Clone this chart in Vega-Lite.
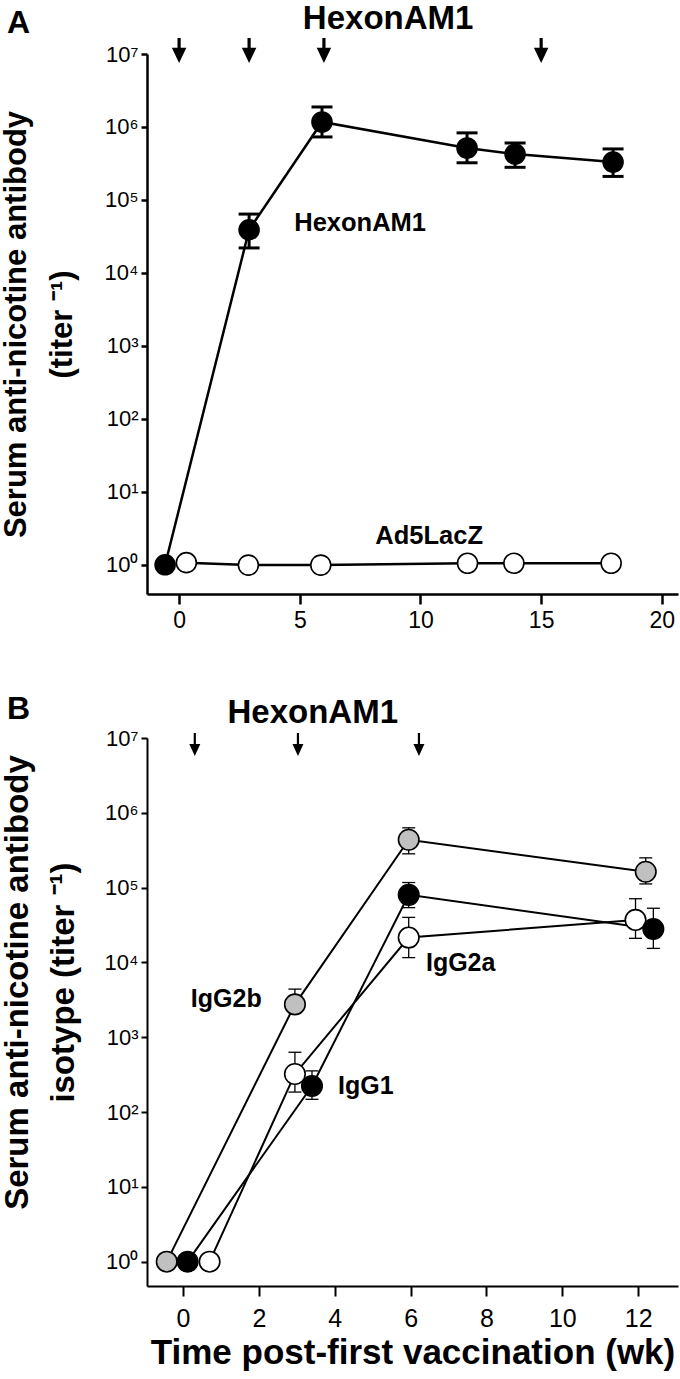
{
  "$schema": "https://vega.github.io/schema/vega-lite/v6.json",
  "padding": {"left": 0, "top": 2, "right": 2, "bottom": 4},
  "bounds": "flush",
  "spacing": 144,
  "resolve": {"scale": {"x": "independent", "y": "independent", "fill": "independent"}},
  "config": {
    "view": {"stroke": null},
    "font": "Liberation Sans",
    "axis": {"grid": false, "domainColor": "black", "tickColor": "black", "labelColor": "black", "titleColor": "black"}
  },
  "datasets": {
    "A": [
      {"series": "HexonAM1", "week": -0.58, "titer": 1.0},
      {"series": "HexonAM1", "week": 2.9, "titer": 39000, "lo": 22000, "hi": 64000},
      {"series": "HexonAM1", "week": 5.92, "titer": 1170000, "lo": 730000, "hi": 1880000},
      {"series": "HexonAM1", "week": 11.93, "titer": 515000, "lo": 323000, "hi": 830000},
      {"series": "HexonAM1", "week": 13.92, "titer": 425000, "lo": 280000, "hi": 603000},
      {"series": "HexonAM1", "week": 17.98, "titer": 330000, "lo": 210000, "hi": 500000},
      {"series": "Ad5LacZ", "week": 0.3, "titer": 1.07},
      {"series": "Ad5LacZ", "week": 2.87, "titer": 0.99},
      {"series": "Ad5LacZ", "week": 5.87, "titer": 0.99},
      {"series": "Ad5LacZ", "week": 11.95, "titer": 1.05},
      {"series": "Ad5LacZ", "week": 13.87, "titer": 1.05},
      {"series": "Ad5LacZ", "week": 17.9, "titer": 1.05}
    ],
    "arrowsA": [
      {"week": 0, "titer": 7530000},
      {"week": 2.9, "titer": 7530000},
      {"week": 6, "titer": 7530000},
      {"week": 15, "titer": 7530000}
    ],
    "labelsA": [
      {"label": "HexonAM1", "week": 7.5, "titer": 48400},
      {"label": "Ad5LacZ", "week": 10.36, "titer": 2.5}
    ],
    "titleA": [{"label": "HexonAM1", "week": 8.66, "titer": 30200000}],
    "letterA": [{"label": "A", "week": -6.65, "titer": 26900000}],
    "B": [
      {"series": "IgG2b", "week": -0.43, "titer": 1.0},
      {"series": "IgG2b", "week": 2.95, "titer": 2750, "lo": 2300, "hi": 4400},
      {"series": "IgG2b", "week": 5.95, "titer": 436000, "lo": 283000, "hi": 630000},
      {"series": "IgG2b", "week": 12.2, "titer": 163000, "lo": 112000, "hi": 250000},
      {"series": "IgG2a", "week": 0.7, "titer": 1.0},
      {"series": "IgG2a", "week": 2.95, "titer": 323, "lo": 185, "hi": 630},
      {"series": "IgG2a", "week": 5.95, "titer": 21500, "lo": 11600, "hi": 40000},
      {"series": "IgG2a", "week": 11.93, "titer": 37000, "lo": 21000, "hi": 71000},
      {"series": "IgG1", "week": 0.12, "titer": 1.0},
      {"series": "IgG1", "week": 3.4, "titer": 223, "lo": 148, "hi": 355},
      {"series": "IgG1", "week": 5.95, "titer": 80000, "lo": 54000, "hi": 117000},
      {"series": "IgG1", "week": 12.4, "titer": 28000, "lo": 15400, "hi": 53000}
    ],
    "arrowsB": [
      {"week": 0.31, "titer": 5740000},
      {"week": 3.03, "titer": 5740000},
      {"week": 6.22, "titer": 5740000}
    ],
    "labelsB": [
      {"label": "IgG2b", "week": 1.14, "titer": 3280},
      {"label": "IgG2a", "week": 7.32, "titer": 9900},
      {"label": "IgG1", "week": 4.82, "titer": 225}
    ],
    "titleB": [{"label": "HexonAM1", "week": 3.42, "titer": 21400000}],
    "letterB": [{"label": "B", "week": -4.34, "titer": 24500000}]
  },
  "vconcat": [
    {
      "width": 531,
      "height": 540,
      "encoding": {
        "x": {
          "field": "week", "type": "quantitative",
          "scale": {"domain": [-1.33, 20.67], "nice": false, "zero": false},
          "axis": {"values": [0, 5, 10, 15, 20], "title": null, "tickSize": 10, "tickWidth": 2.5, "domainWidth": 2.5,
                   "labelFontSize": 23, "labelPadding": 5, "labelFont": "Liberation Sans"}
        },
        "y": {
          "field": "titer", "type": "quantitative",
          "scale": {"type": "log", "domain": [0.398, 10000000], "nice": false},
          "axis": {"values": [1, 10, 100, 1000, 10000, 100000, 1000000, 10000000],
                   "labelExpr": "'10' + substring('⁰¹²³⁴⁵⁶⁷', round(log(datum.value)/LN10), round(log(datum.value)/LN10)+1)",
                   "tickSize": 6, "tickWidth": 2.5, "domainWidth": 2.5,
                   "labelFont": "Liberation Sans", "labelFontSize": 22, "labelPadding": 3,
                   "title": ["Serum anti-nicotine antibody", "(titer ⁻¹)"],
                   "titleFont": "Liberation Sans", "titleFontWeight": "bold", "titleFontSize": 31,
                   "titleLineHeight": 46, "titlePadding": 26}
        }
      },
      "layer": [
        {"data": {"name": "A"}, "mark": {"type": "line", "color": "black", "strokeWidth": 2.5}, "encoding": {"detail": {"field": "series"}}},
        {"data": {"name": "A"}, "mark": {"type": "rule", "color": "black", "strokeWidth": 3},
         "encoding": {"y": {"field": "lo", "type": "quantitative"}, "y2": {"field": "hi"}}},
        {"data": {"name": "A"}, "mark": {"type": "point", "shape": "stroke", "size": 441, "strokeWidth": 3, "color": "black", "opacity": 1},
         "encoding": {"y": {"field": "lo", "type": "quantitative"}}},
        {"data": {"name": "A"}, "mark": {"type": "point", "shape": "stroke", "size": 441, "strokeWidth": 3, "color": "black", "opacity": 1},
         "encoding": {"y": {"field": "hi", "type": "quantitative"}}},
        {"data": {"name": "A"}, "mark": {"type": "point", "filled": true, "size": 400, "stroke": "black", "strokeWidth": 1.6, "opacity": 1},
         "encoding": {"fill": {"field": "series", "type": "nominal", "scale": {"domain": ["HexonAM1", "Ad5LacZ"], "range": ["black", "white"]}, "legend": null}}},
        {"data": {"name": "arrowsA"}, "mark": {"type": "point", "filled": true, "color": "black", "opacity": 1, "size": 210,
          "shape": "M-0.22,-3.45L0.22,-3.45L0.22,-2.1L1,-2.1L0,0L-1,-2.1L-0.22,-2.1Z"}},
        {"data": {"name": "labelsA"}, "mark": {"type": "text", "fontWeight": "bold", "fontSize": 25.5, "color": "black", "align": "center", "baseline": "middle"},
         "encoding": {"text": {"field": "label"}}},
        {"data": {"name": "titleA"}, "mark": {"type": "text", "fontWeight": "bold", "fontSize": 33, "color": "black", "align": "center", "baseline": "middle"},
         "encoding": {"text": {"field": "label"}}},
        {"data": {"name": "letterA"}, "mark": {"type": "text", "fontWeight": "bold", "fontSize": 32, "color": "black", "align": "center", "baseline": "middle"},
         "encoding": {"text": {"field": "label"}}}
      ]
    },
    {
      "width": 531,
      "height": 548,
      "encoding": {
        "x": {
          "field": "week", "type": "quantitative",
          "scale": {"domain": [-0.95, 13.05], "nice": false, "zero": false},
          "axis": {"values": [0, 2, 4, 6, 8, 10, 12], "tickSize": 10, "tickWidth": 2, "domainWidth": 2,
                   "labelFont": "Liberation Sans", "labelFontSize": 25, "labelPadding": 10,
                   "title": "Time post-first vaccination (wk)", "titleFont": "Liberation Sans", "titleFontWeight": "bold",
                   "titleFontSize": 35, "titlePadding": 4}
        },
        "y": {
          "field": "titer", "type": "quantitative",
          "scale": {"type": "log", "domain": [0.473, 10000000], "nice": false},
          "axis": {"values": [1, 10, 100, 1000, 10000, 100000, 1000000, 10000000],
                   "labelExpr": "'10' + substring('⁰¹²³⁴⁵⁶⁷', round(log(datum.value)/LN10), round(log(datum.value)/LN10)+1)",
                   "tickSize": 6, "tickWidth": 2, "domainWidth": 2,
                   "labelFont": "Liberation Sans", "labelFontSize": 22, "labelPadding": 3,
                   "title": ["Serum anti-nicotine antibody", "isotype (titer ⁻¹)"],
                   "titleFont": "Liberation Sans", "titleFontWeight": "bold", "titleFontSize": 33,
                   "titleLineHeight": 46, "titlePadding": 24, "titleY": 244}
        }
      },
      "layer": [
        {"data": {"name": "B"}, "mark": {"type": "line", "color": "black", "strokeWidth": 2}, "encoding": {"detail": {"field": "series"}}},
        {"data": {"name": "B"}, "mark": {"type": "rule", "color": "black", "strokeWidth": 1.3},
         "encoding": {"y": {"field": "lo", "type": "quantitative"}, "y2": {"field": "hi"}}},
        {"data": {"name": "B"}, "mark": {"type": "point", "shape": "stroke", "size": 169, "strokeWidth": 1.3, "color": "black", "opacity": 1},
         "encoding": {"y": {"field": "lo", "type": "quantitative"}}},
        {"data": {"name": "B"}, "mark": {"type": "point", "shape": "stroke", "size": 169, "strokeWidth": 1.3, "color": "black", "opacity": 1},
         "encoding": {"y": {"field": "hi", "type": "quantitative"}}},
        {"data": {"name": "B"}, "mark": {"type": "point", "filled": true, "size": 420, "stroke": "black", "strokeWidth": 1.6, "opacity": 1},
         "encoding": {"fill": {"field": "series", "type": "nominal", "scale": {"domain": ["IgG2b", "IgG2a", "IgG1"], "range": ["#c0c0c0", "white", "black"]}, "legend": null}}},
        {"data": {"name": "arrowsB"}, "mark": {"type": "point", "filled": true, "color": "black", "opacity": 1, "size": 121,
          "shape": "M-0.2,-4.18L0.2,-4.18L0.2,-2.18L1,-2.18L0,0L-1,-2.18L-0.2,-2.18Z"}},
        {"data": {"name": "labelsB"}, "mark": {"type": "text", "fontWeight": "bold", "fontSize": 25, "color": "black", "align": "center", "baseline": "middle"},
         "encoding": {"text": {"field": "label"}}},
        {"data": {"name": "titleB"}, "mark": {"type": "text", "fontWeight": "bold", "fontSize": 33, "color": "black", "align": "center", "baseline": "middle"},
         "encoding": {"text": {"field": "label"}}},
        {"data": {"name": "letterB"}, "mark": {"type": "text", "fontWeight": "bold", "fontSize": 32, "color": "black", "align": "center", "baseline": "middle"},
         "encoding": {"text": {"field": "label"}}}
      ]
    }
  ]
}
